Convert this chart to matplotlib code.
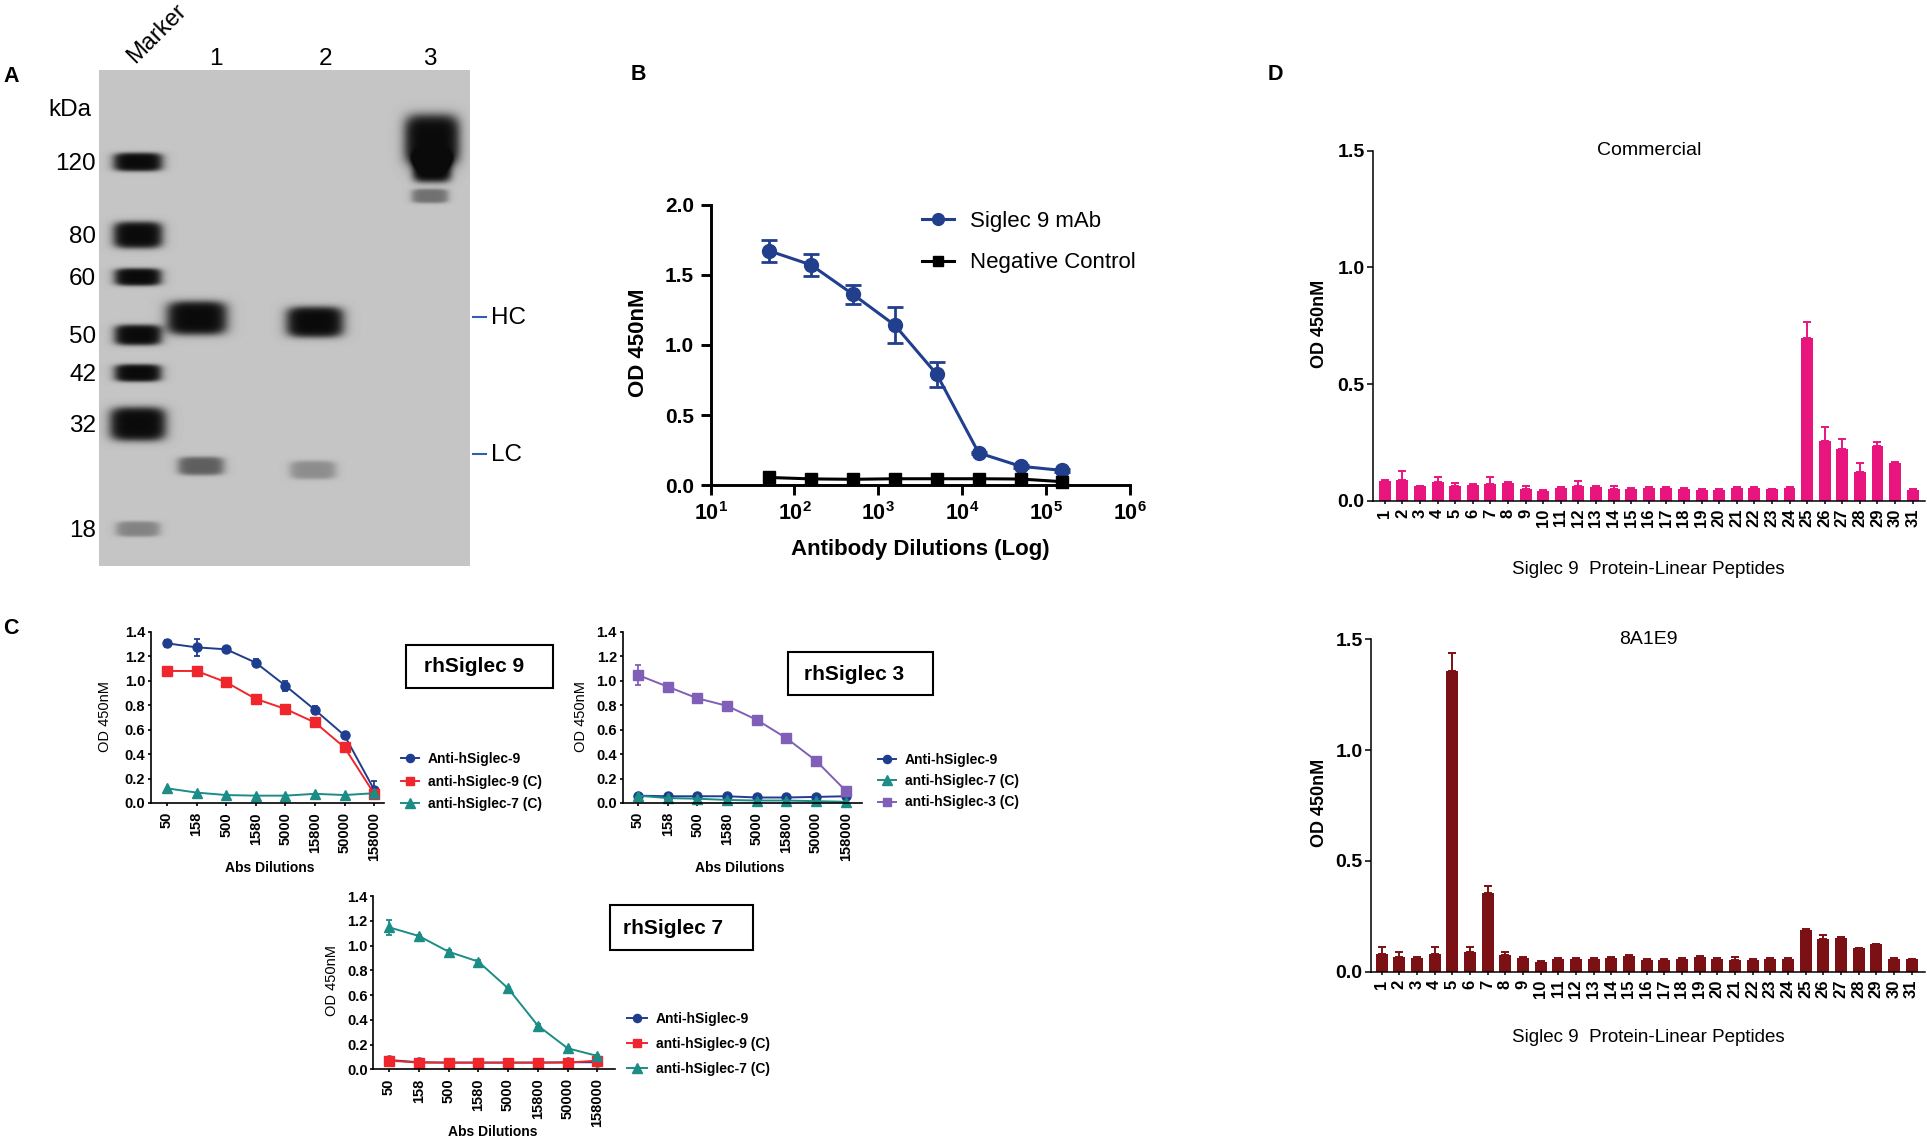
import numpy as np
import matplotlib
matplotlib.use('Agg')
import matplotlib.pyplot as plt
from matplotlib.patches import Rectangle
from matplotlib.ticker import NullLocator

plt.rcParams['font.family'] = ['Liberation Sans', 'DejaVu Sans']
plt.rcParams['mathtext.fontset'] = 'custom'
plt.rcParams['mathtext.rm'] = 'Liberation Sans'
plt.rcParams['mathtext.bf'] = 'Liberation Sans:bold'

# ---------------- data ----------------
# A: western blot (gel positions in pixels of the figure)
kda_labels = ['120', '80', '60', '50', '42', '32', '18']
marker_y = [162, 235, 277, 335, 373, 424, 529]
marker_h = [18, 26, 17, 20, 17, 33, 15]
marker_w = [48, 48, 46, 46, 46, 55, 43]
marker_dark = [1, 1, 1, 1, 1, 1, 0.35]
lane_names = ['1', '2', '3']
lane_x = [216, 325, 430]
band_x = [197, 201, 315, 313, 432, 432, 430]
band_y = [318, 466, 322, 470, 140, 168, 196]
band_w = [59, 45, 56, 45, 54, 38, 36]
band_h = [33, 18, 30, 18, 50, 28, 14]
band_dark = [1, 0.55, 1, 0.3, 1, 1, 0.45]
chain_labels = ['HC', 'LC']
chain_y = [317, 454]

# B: ELISA titration
b_dil = [50, 158, 500, 1580, 5000, 15800, 50000, 158000]
b_mab = [1.67, 1.57, 1.36, 1.14, 0.79, 0.23, 0.135, 0.105]
b_mab_err = [0.08, 0.08, 0.07, 0.13, 0.09, 0.01, 0.01, 0.01]
b_neg = [0.055, 0.045, 0.042, 0.046, 0.046, 0.046, 0.044, 0.025]

# C: cross reactivity
c_dil_labels = ['50', '158', '500', '1580', '5000', '15800', '50000', '158000']
c1_anti9 = [1.305, 1.272, 1.256, 1.147, 0.959, 0.761, 0.552, 0.109]
c1_anti9_err = [0.03, 0.07, 0.01, 0.03, 0.04, 0.03, 0.01, 0.07]
c1_anti9c = [1.079, 1.079, 0.987, 0.851, 0.769, 0.658, 0.454, 0.076]
c1_anti7c = [0.12, 0.085, 0.065, 0.06, 0.06, 0.075, 0.065, 0.08]
c2_anti9 = [0.06, 0.055, 0.055, 0.055, 0.045, 0.045, 0.05, 0.055]
c2_anti7c = [0.06, 0.04, 0.035, 0.025, 0.02, 0.02, 0.015, 0.01]
c2_anti3c = [1.046, 0.951, 0.856, 0.794, 0.680, 0.530, 0.345, 0.10]
c2_anti3c_err = [0.078, 0.03, 0.02, 0.01, 0.02, 0.01, 0.01, 0.02]
c3_anti9 = [0.075, 0.057, 0.054, 0.054, 0.054, 0.054, 0.057, 0.057]
c3_anti9c = [0.07, 0.054, 0.054, 0.054, 0.054, 0.054, 0.054, 0.07]
c3_anti7c = [1.147, 1.077, 0.950, 0.870, 0.654, 0.353, 0.170, 0.108]
c3_anti7c_err = [0.06, 0.01, 0.01, 0.01, 0.01, 0.01, 0.01, 0.01]

# D: linear peptide mapping
d_peptides = list(range(1, 32))
d_comm = [0.083, 0.087, 0.061, 0.080, 0.064, 0.069, 0.072, 0.075, 0.052, 0.043,
          0.055, 0.064, 0.057, 0.052, 0.050, 0.055, 0.055, 0.050, 0.047, 0.047,
          0.055, 0.055, 0.049, 0.055, 0.696, 0.256, 0.222, 0.122, 0.234, 0.161, 0.046]
d_comm_err = [0.005, 0.04, 0.004, 0.02, 0.013, 0.004, 0.028, 0.004, 0.012, 0.003,
              0.004, 0.02, 0.004, 0.012, 0.003, 0.004, 0.004, 0.003, 0.003, 0.004,
              0.004, 0.004, 0.003, 0.004, 0.07, 0.058, 0.041, 0.039, 0.019, 0.004, 0.004]
d_8a1e9 = [0.080, 0.068, 0.063, 0.080, 1.358, 0.090, 0.357, 0.074, 0.063, 0.045,
           0.057, 0.057, 0.056, 0.063, 0.071, 0.053, 0.053, 0.057, 0.065, 0.056,
           0.053, 0.053, 0.056, 0.057, 0.188, 0.147, 0.153, 0.105, 0.123, 0.057, 0.056]
d_8a1e9_err = [0.033, 0.022, 0.004, 0.033, 0.082, 0.023, 0.03, 0.016, 0.004, 0.003,
               0.004, 0.004, 0.004, 0.004, 0.004, 0.003, 0.003, 0.004, 0.004, 0.004,
               0.015, 0.003, 0.004, 0.004, 0.004, 0.018, 0.004, 0.003, 0.004, 0.003, 0.003]

# ---------------- helpers ----------------
W, H = 1927, 1140
fig = plt.figure(figsize=(W / 100, H / 100), dpi=100)


def px_axes(l, t, r, b):
    return fig.add_axes([l / W, 1 - b / H, (r - l) / W, (b - t) / H])


def ftext(x, y, s, **kw):
    return fig.text(x / W, 1 - y / H, s, **kw)


def label_at(ax, which, s, xpx, ypx, **kw):
    if which == 'x':
        lab = ax.set_xlabel(s, **kw)
        axis = ax.xaxis
    else:
        lab = ax.set_ylabel(s, **kw)
        axis = ax.yaxis
    lab.set_va('center')
    lab.set_ha('center')
    p = ax.get_position()
    axis.set_label_coords((xpx / W - p.x0) / p.width, ((1 - ypx / H) - p.y0) / p.height)


def tag_box(l, t, r, b, s, tx, ty):
    fig.add_artist(Rectangle((l / W, 1 - b / H), (r - l) / W, (b - t) / H,
                             transform=fig.transFigure, fill=False, ec='black', lw=1.5))
    ftext(tx, ty, s, ha='center', va='center', fontsize=15, fontweight='bold')


for letter, lx, ly in [('A', 11, 76), ('B', 638, 74), ('C', 11, 629), ('D', 1275, 75)]:
    ftext(lx, ly, letter, ha='center', va='center', fontsize=15.5, fontweight='bold')

# ---------------- A ----------------
axA = px_axes(99, 70, 470, 566)
gx = np.arange(99, 470) + 0.5
gy = np.arange(70, 566) + 0.5
GX, GY = np.meshgrid(gx, gy)


def band_mask(cx, cy, w, h):
    d = ((np.abs(GX - cx) / (w / 2)) ** 4 + (np.abs(GY - cy) / (h / 2)) ** 4) ** 0.25
    return 1 / (1 + np.exp((d - 1) / 0.12))


ink = np.zeros_like(GX)
for y, w, h, k in zip(marker_y, marker_w, marker_h, marker_dark):
    ink += k * band_mask(138, y, w, h)
for x, y, w, h, k in zip(band_x, band_y, band_w, band_h, band_dark):
    ink += k * band_mask(x, y, w, h)
ink = np.clip(ink, 0, 1)
gel = 197 - (197 - 10) * ink
axA.imshow(gel, cmap='gray', vmin=0, vmax=255, extent=(99, 470, 566, 70),
           interpolation='bilinear', aspect='auto')
axA.set_axis_off()

ftext(157, 34, 'Marker', rotation=45, ha='center', va='center', fontsize=17)
for name, x in zip(lane_names, lane_x):
    ftext(x, 59, name, ha='center', va='center', fontsize=17.5)
ftext(91, 110, 'kDa', ha='right', va='center', fontsize=17.5)
for lab, y in zip(kda_labels, marker_y):
    ftext(96, y + 2, lab, ha='right', va='center', fontsize=17.5)
for lab, y in zip(chain_labels, chain_y):
    fig.add_artist(plt.Line2D([473 / W, 486 / W], [1 - y / H, 1 - y / H],
                              color='#2f5fb3', lw=1.5))
    ftext(491, y + 1, lab, ha='left', va='center', fontsize=17.5)

# ---------------- B ----------------
navy = '#213f8c'
axB = px_axes(710.7, 204.6, 1129.6, 485.2)
axB.errorbar(b_dil, b_mab, yerr=b_mab_err, fmt='none', ecolor=navy,
             elinewidth=2, capsize=6, capthick=2)
axB.plot(b_dil, b_mab, color=navy, marker='o', ms=10, lw=2.2,
         label='Siglec 9 mAb', clip_on=False)
axB.plot(b_dil, b_neg, color='black', marker='s', ms=9, lw=2.2,
         label='Negative Control', clip_on=False)
axB.set_xscale('log')
axB.set_xlim(10, 1e6)
axB.set_ylim(0, 2)
axB.xaxis.set_minor_locator(NullLocator())
axB.set_xticks([10 ** k for k in range(1, 7)],
               [r'$\mathbf{10^{%d}}$' % k for k in range(1, 7)], fontsize=15.5)
axB.set_yticks([0, 0.5, 1.0, 1.5, 2.0], ['0.0', '0.5', '1.0', '1.5', '2.0'],
               fontsize=15, fontweight='bold')
for s in ['top', 'right']:
    axB.spines[s].set_visible(False)
for s in ['left', 'bottom']:
    axB.spines[s].set_linewidth(2.1)
axB.tick_params(direction='out', length=7, width=2.1, pad=5)
label_at(axB, 'x', 'Antibody Dilutions (Log)', 920, 549, fontsize=16, fontweight='bold')
label_at(axB, 'y', 'OD 450nM', 639, 343, fontsize=16, fontweight='bold')
axB.legend(loc='upper left', bbox_to_anchor=(922 / W, 1 - 211 / H),
           bbox_transform=fig.transFigure, frameon=False, fontsize=16,
           handlelength=1.45, handletextpad=0.72, labelspacing=0.92,
           borderpad=0, borderaxespad=0, markerscale=0.85)

# ---------------- C ----------------
c_style = {
    'Anti-hSiglec-9': ('#1f3d8e', 'o', 6.5),
    'anti-hSiglec-9 (C)': ('#f0262d', 's', 6.5),
    'anti-hSiglec-7 (C)': ('#1c8c87', '^', 7.5),
    'anti-hSiglec-3 (C)': ('#7f5fb8', 's', 7),
}


def draw_c(box, xr, series, leg_xy, leg_sp, hlen):
    ax = px_axes(*box)
    pos = np.arange(len(c_dil_labels))
    handles = []
    for name, vals, errs in series:
        color, mk, ms = c_style[name]
        if errs is not None:
            ax.errorbar(pos, vals, yerr=errs, fmt='none', ecolor=color,
                        elinewidth=1.3, capsize=2.5, capthick=1.3)
        h, = ax.plot(pos, vals, color=color, marker=mk, ms=ms, lw=1.4,
                     label=name, clip_on=False)
        handles.append(h)
    ax.set_xlim(*xr)
    ax.set_ylim(0, 1.4)
    ax.set_xticks(pos, c_dil_labels, rotation=90, fontsize=10.5, fontweight='bold')
    yt = np.round(np.arange(0, 1.41, 0.2), 1)
    ax.set_yticks(yt, ['%.1f' % v for v in yt], fontsize=10.5, fontweight='bold')
    for s in ['top', 'right']:
        ax.spines[s].set_visible(False)
    for s in ['left', 'bottom']:
        ax.spines[s].set_linewidth(1.2)
    ax.tick_params(axis='y', direction='out', length=2.5, width=1.2, pad=1.5)
    ax.tick_params(axis='x', direction='out', length=2.5, width=1.2, pad=4)
    ax.legend(handles=handles, loc='upper left',
              bbox_to_anchor=(leg_xy[0] / W, 1 - leg_xy[1] / H),
              bbox_transform=fig.transFigure, frameon=False,
              prop={'size': 10, 'weight': 'bold'}, handlelength=hlen,
              handletextpad=0.65, labelspacing=leg_sp, borderpad=0,
              borderaxespad=0, markerscale=0.9)
    return ax


# panel C handles are listed in legend order
axC1 = draw_c((150.7, 631.7, 384.5, 803), (-0.55, 7.35),
              [('Anti-hSiglec-9', c1_anti9, c1_anti9_err),
               ('anti-hSiglec-9 (C)', c1_anti9c, None),
               ('anti-hSiglec-7 (C)', c1_anti7c, None)],
              (400.7, 752), 0.62, 1.3)
label_at(axC1, 'x', 'Abs Dilutions', 270, 868, fontsize=10, fontweight='bold')
label_at(axC1, 'y', 'OD 450nM', 105, 717, fontsize=10.5)
tag_box(406, 645, 552.6, 688, 'rhSiglec 9', 474, 667)

axC2 = draw_c((622.5, 631.7, 861.8, 803), (-0.52, 7.54),
              [('Anti-hSiglec-9', c2_anti9, None),
               ('anti-hSiglec-7 (C)', c2_anti7c, None),
               ('anti-hSiglec-3 (C)', c2_anti3c, c2_anti3c_err)],
              (878, 753), 0.52, 1.3)
label_at(axC2, 'x', 'Abs Dilutions', 740, 868, fontsize=10, fontweight='bold')
label_at(axC2, 'y', 'OD 450nM', 581, 717, fontsize=10.5)
tag_box(787.5, 651.7, 933.2, 695, 'rhSiglec 3', 854, 674)

axC3 = draw_c((373.3, 896, 615.2, 1069.3), (-0.53, 7.6),
              [('Anti-hSiglec-9', c3_anti9, None),
               ('anti-hSiglec-9 (C)', c3_anti9c, None),
               ('anti-hSiglec-7 (C)', c3_anti7c, c3_anti7c_err)],
              (626.7, 1012), 0.78, 1.45)
label_at(axC3, 'x', 'Abs Dilutions', 493, 1132, fontsize=10, fontweight='bold')
label_at(axC3, 'y', 'OD 450nM', 332, 980, fontsize=10.5)
tag_box(610, 905, 753.3, 950, 'rhSiglec 7', 673, 929)


# ---------------- D ----------------
def draw_d(box, x0, vals, errs, color, title, xlab_y):
    ax = px_axes(*box)
    ax.bar(d_peptides, vals, width=0.68, color=color,
           yerr=(np.zeros(len(errs)), errs),
           error_kw=dict(ecolor=color, elinewidth=1.4, capsize=3, capthick=1.4))
    ax.set_xlim(x0, x0 + 31.37)
    ax.set_ylim(0, 1.5)
    ax.set_xticks(d_peptides, [str(p) for p in d_peptides], rotation=90,
                  fontsize=12, fontweight='bold')
    ax.set_yticks([0, 0.5, 1.0, 1.5], ['0.0', '0.5', '1.0', '1.5'],
                  fontsize=14, fontweight='bold')
    for s in ['top', 'right']:
        ax.spines[s].set_visible(False)
    for s in ['left', 'bottom']:
        ax.spines[s].set_linewidth(1.1)
    ax.tick_params(axis='y', direction='out', length=4, width=1.1, pad=2)
    ax.tick_params(axis='x', direction='out', length=2.5, width=1.1, pad=3)
    ax.set_title(title, y=1.0, va='center', pad=0, fontsize=14)
    label_at(ax, 'x', 'Siglec 9  Protein-Linear Peptides', 1648, xlab_y, fontsize=13.5)
    return ax


axD1 = draw_d((1373, 150.7, 1925, 500.7), 0.33, d_comm, d_comm_err,
              '#e8157f', 'Commercial', 569)
label_at(axD1, 'y', 'OD 450nM', 1319, 324, fontsize=13, fontweight='bold')
axD2 = draw_d((1370.9, 639.3, 1925, 971.7), 0.39, d_8a1e9, d_8a1e9_err,
              '#7b1114', '8A1E9', 1037)
label_at(axD2, 'y', 'OD 450nM', 1319, 803, fontsize=13, fontweight='bold')

fig.savefig('out.png', dpi=100)
